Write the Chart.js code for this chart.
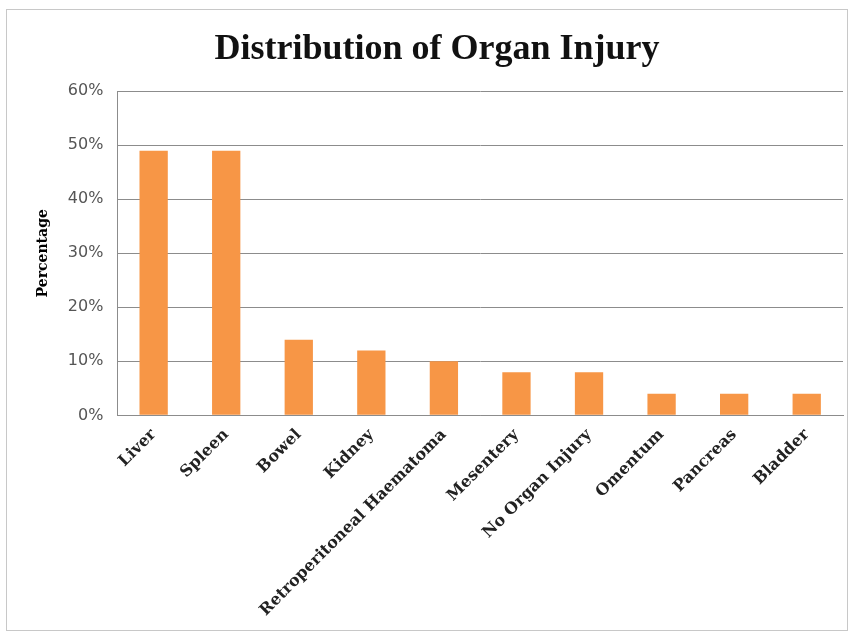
<!DOCTYPE html>
<html>
<head>
<meta charset="utf-8">
<script src="https://cdn.jsdelivr.net/npm/chart.js@4"></script>
<style>
  html, body { margin: 0; padding: 0; background: #fff; }
  #frame { position: absolute; left: 6px; top: 9px; width: 842px; height: 622px; border: 1px solid #c8c8c8; box-sizing: border-box; }
  canvas { display: block; }
</style>
</head>
<body>
<div id="frame"><canvas id="grafico" width="840" height="620"></canvas></div>
<script>
// Datos
const organos = ["Liver", "Spleen", "Bowel", "Kidney", "Retroperitoneal Haematoma", "Mesentery", "No Organ Injury", "Omentum", "Pancreas", "Bladder"];
const porcentajes = [49, 49, 14, 12, 10, 8, 8, 4, 4, 4];
const titulo = "Distribution of Organ Injury";

const ctx = document.getElementById("grafico").getContext("2d");
new Chart(ctx, {
  type: "bar",
  data: {
    labels: organos,
    datasets: [{
      label: "Percentage",
      data: porcentajes,
      backgroundColor: "#F79646",
      borderWidth: 0,
      categoryPercentage: 0.78,
      barPercentage: 0.5
    }]
  },
  options: {
    responsive: false,
    animation: false,
    layout: { padding: { left: 24, right: 4, top: 18, bottom: 0 } },
    plugins: {
      legend: { display: false },
      tooltip: { enabled: false },
      title: {
        display: true,
        text: titulo,
        color: "#111",
        font: { family: "Liberation Serif", size: 36, weight: "bold" },
        padding: { top: 0, bottom: 20 }
      }
    },
    scales: {
      x: {
        grid: { display: false, drawTicks: false },
        border: { display: true, color: "#8c8c8c" },
        ticks: {
          color: "#222",
          minRotation: 45, maxRotation: 45,
          padding: 10,
          font: { family: "DejaVu Serif", size: 16, weight: "bold" }
        }
      },
      y: {
        min: 0, max: 60,
        grid: { color: "#8c8c8c", drawTicks: false },
        border: { display: true, color: "#8c8c8c" },
        ticks: {
          stepSize: 10,
          color: "#555",
          padding: 14,
          font: { family: "DejaVu Sans", size: 16 },
          callback: v => v + "%"
        },
        title: {
          display: true,
          text: "Percentage",
          color: "#000",
          font: { family: "DejaVu Serif", size: 14, weight: "bold" },
          padding: { bottom: 2 }
        }
      }
    }
  }
});
</script>
</body>
</html>
